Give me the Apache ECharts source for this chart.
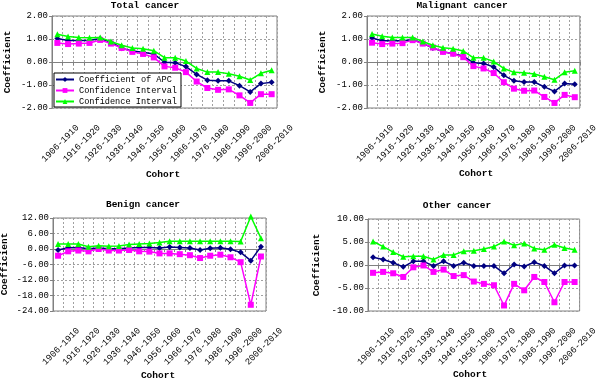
<!DOCTYPE html>
<html>
<head>
<meta charset="utf-8">
<script src="https://cdn.jsdelivr.net/npm/echarts@6/dist/echarts.min.js"></script>
<style>html,body{margin:0;padding:0;background:#fff}#c{width:600px;height:381px}</style>
</head>
<body>
<div id="c"></div>
<script>
const cohorts = ['1906-1910','1911-1915','1916-1920','1921-1925','1926-1930','1931-1935','1936-1940','1941-1945','1946-1950','1951-1955','1956-1960','1961-1965','1966-1970','1971-1975','1976-1980','1981-1985','1986-1990','1991-1995','1996-2000','2001-2005','2006-2010'];

const panelTitles = ['Total cancer','Malignant cancer','Benign cancer','Other cancer'];
const seriesNames = ['Coefficient of APC','Confidence Interval (lower)','Confidence Interval (upper)'];

const totalAPC   = [1.02,0.93,0.93,0.93,1.02,0.86,0.60,0.48,0.42,0.35,-0.01,-0.03,-0.20,-0.54,-0.79,-0.82,-0.82,-1.03,-1.30,-0.94,-0.88];
const totalLower = [0.83,0.78,0.80,0.83,0.96,0.80,0.61,0.44,0.35,0.20,-0.19,-0.25,-0.44,-0.85,-1.13,-1.21,-1.19,-1.45,-1.78,-1.40,-1.40];
const totalUpper = [1.21,1.11,1.06,1.05,1.06,0.89,0.73,0.61,0.58,0.49,0.19,0.19,0.04,-0.28,-0.44,-0.44,-0.51,-0.62,-0.78,-0.49,-0.36];

const malAPC   = [1.04,0.92,0.92,0.92,0.97,0.81,0.61,0.45,0.36,0.26,-0.03,-0.06,-0.22,-0.58,-0.82,-0.87,-0.87,-1.08,-1.28,-0.94,-0.97];
const malLower = [0.84,0.78,0.80,0.82,0.95,0.80,0.63,0.44,0.36,0.21,-0.18,-0.28,-0.48,-0.88,-1.16,-1.25,-1.24,-1.52,-1.78,-1.43,-1.53];
const malUpper = [1.22,1.12,1.07,1.06,1.07,0.89,0.73,0.62,0.58,0.48,0.18,0.18,0.02,-0.28,-0.45,-0.47,-0.52,-0.64,-0.77,-0.45,-0.38];

const benAPC   = [-0.4,0.5,0.6,0.1,0.4,0.1,0.1,0.4,0.6,0.6,0.4,0.8,0.6,0.4,-0.4,0.3,0.5,-0.1,-1.3,-4.5,0.9];
const benLower = [-2.6,-0.9,-0.6,-0.9,0.0,-0.6,-0.6,-0.4,-0.9,-1.0,-1.7,-1.7,-2.0,-2.4,-3.5,-2.6,-2.2,-3.2,-5.1,-21.6,-2.9];
const benUpper = [1.9,1.9,1.9,0.9,1.3,1.1,1.2,1.7,1.9,2.1,2.5,3.0,3.0,3.0,3.0,3.0,3.0,3.0,2.9,12.6,4.2];

const othAPC   = [1.7,1.2,0.5,-0.4,0.8,0.8,-0.2,0.8,-0.2,0.5,-0.2,-0.2,-0.2,-1.8,0.1,-0.3,0.6,-0.2,-1.8,-0.1,-0.1];
const othLower = [-1.7,-1.5,-1.8,-2.6,-0.5,-0.1,-1.5,-1.0,-2.4,-2.2,-3.6,-4.1,-4.4,-8.8,-4.1,-5.5,-2.6,-3.7,-8.1,-3.7,-3.7];
const othUpper = [5.1,4.0,2.8,1.8,1.9,1.9,1.2,2.2,2.2,3.0,3.1,3.5,4.0,5.1,4.3,4.7,3.6,3.3,4.4,3.7,3.3];

const yMin = [-2, -2, -24, -10];
const yMax = [2, 2, 12, 10];
const yStep = [1, 1, 6, 5];

const panelData = [
  [totalAPC, totalLower, totalUpper],
  [malAPC, malLower, malUpper],
  [benAPC, benLower, benUpper],
  [othAPC, othLower, othUpper]
];

const FONT = 'Liberation Mono';
const grids = [
  {left: 52, top: 16, width: 225, height: 92},
  {left: 367, top: 16, width: 222, height: 92},
  {left: 53, top: 218, width: 213, height: 93},
  {left: 368, top: 219, width: 213, height: 92}
];
const titlePos = [[145, 6], [462, 6], [143, 205], [457, 206]];
const yNamePos = [[8, 62], [323, 62], [5, 264], [317, 265]];
const xNamePos = [[163, 175], [476, 174], [158, 376], [470, 375]];

const colors = ['#000080', '#FF00FF', '#00FF00'];
const symbols = ['diamond', 'rect', 'triangle'];
const symbolSizes = [6, 6, 6];

const xAxes = [], yAxes = [], series = [], graphics = [];
grids.forEach((g, i) => {
  xAxes.push({
    type: 'category', gridIndex: i, data: cohorts, boundaryGap: true,
    axisLine: {lineStyle: {color: '#808080', width: 1}},
    axisTick: {show: true, interval: 0, length: 3, lineStyle: {color: '#808080'}},
    axisLabel: {interval: 1, rotate: 45, fontFamily: FONT, fontSize: 9, color: '#000', margin: 8,
      align: 'right', verticalAlign: 'top', padding: [17, -7, 0, 0]},
    splitLine: {show: true, interval: 0, lineStyle: {color: '#a0a0a0', type: [2, 2], width: 1}}
  });
  yAxes.push({
    type: 'value', gridIndex: i, min: yMin[i], max: yMax[i], interval: yStep[i],
    axisLine: {show: true, lineStyle: {color: '#808080', width: 1}},
    axisTick: {show: true, length: 3, lineStyle: {color: '#808080'}},
    axisLabel: {fontFamily: FONT, fontSize: 9, color: '#000', margin: 4, formatter: v => v.toFixed(2)},
    splitLine: {show: true, lineStyle: {color: '#a0a0a0', type: [2, 2], width: 1}}
  });
  panelData[i].forEach((arr, k) => {
    series.push({
      type: 'line', name: seriesNames[k], xAxisIndex: i, yAxisIndex: i, data: arr,
      symbol: symbols[k], symbolSize: symbolSizes[k], showAllSymbol: true, clip: false,
      color: colors[k], lineStyle: {color: colors[k], width: 1.5}, itemStyle: {color: colors[k]},
      z: 2 + k
    });
  });
  graphics.push({type: 'text', x: titlePos[i][0], y: titlePos[i][1],
    style: {text: panelTitles[i], font: 'bold 9.5px "' + FONT + '"', fill: '#000', align: 'center', verticalAlign: 'middle', textAlign: 'center', textVerticalAlign: 'middle'}});
  graphics.push({type: 'text', x: yNamePos[i][0], y: yNamePos[i][1], rotation: Math.PI / 2,
    style: {text: 'Coefficient', font: 'bold 9.5px "' + FONT + '"', fill: '#000', align: 'center', verticalAlign: 'middle', textAlign: 'center', textVerticalAlign: 'middle'}});
  graphics.push({type: 'text', x: xNamePos[i][0], y: xNamePos[i][1],
    style: {text: 'Cohort', font: 'bold 9.5px "' + FONT + '"', fill: '#000', align: 'center', verticalAlign: 'middle', textAlign: 'center', textVerticalAlign: 'middle'}});
});

const chart = echarts.init(document.getElementById('c'), null, {renderer: 'canvas'});
chart.setOption({
  animation: false,
  backgroundColor: '#fff',
  grid: grids.map(g => Object.assign({show: true, borderColor: '#808080', borderWidth: 1, backgroundColor: 'transparent'}, g)),
  xAxis: xAxes,
  yAxis: yAxes,
  legend: {
    data: seriesNames, orient: 'vertical', left: 54, top: 73,
    itemWidth: 18, itemHeight: 6, itemGap: 2,
    padding: [2, 4, 1, 1],
    backgroundColor: '#fff', borderColor: '#000', borderWidth: 1,
    textStyle: {fontFamily: FONT, fontSize: 8.6, color: '#000', lineHeight: 9},
    formatter: name => name.indexOf('Confidence') === 0 ? 'Confidence Interval' : name,
    selectedMode: false, z: 10
  },
  series: series,
  graphic: graphics
});
</script>
</body>
</html>
